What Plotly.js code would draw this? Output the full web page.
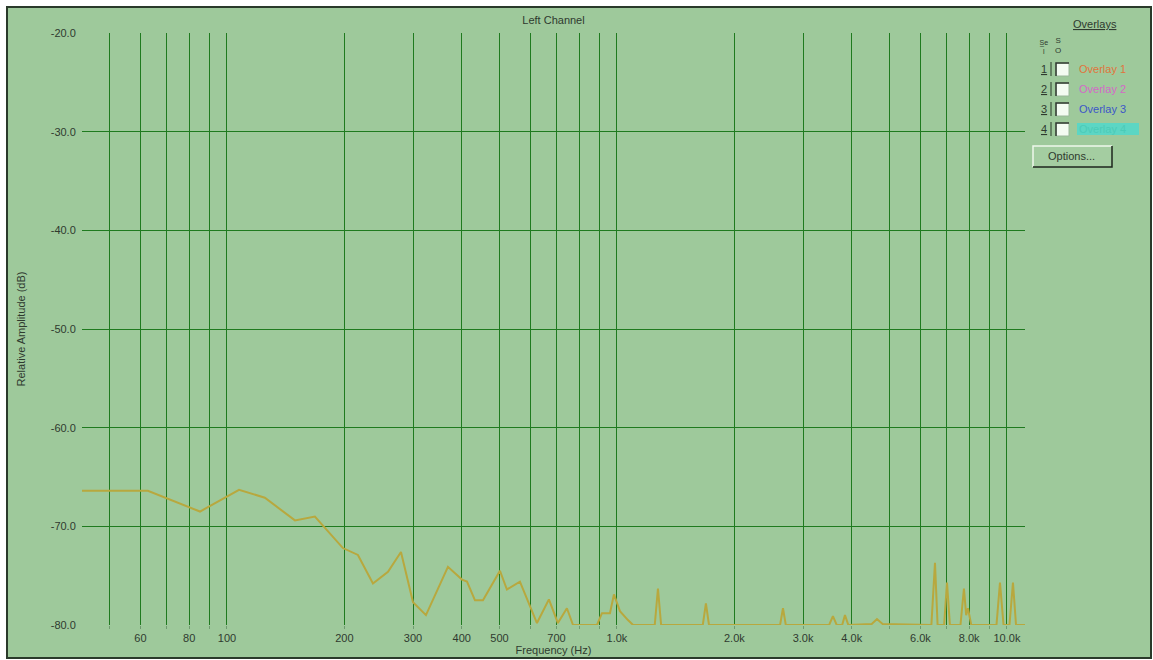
<!DOCTYPE html>
<html>
<head>
<meta charset="utf-8">
<script src="https://cdn.plot.ly/plotly-3.0.1.min.js"></script>
<style>html,body{margin:0;padding:0;background:#fff;}#chart{width:1153px;height:660px;}</style>
</head>
<body>
<div id="chart"></div>
<script>
// Frequency (Hz) and relative amplitude (dB)
const freqHz = [42.5, 62.7, 85.3, 107.4, 125.1, 149.4, 168.1, 198.3, 216.7, 236.8, 258.8, 279.4, 300.0, 323.8,
  368.7, 400.6, 412.6, 432.5, 453.4, 501.2, 522.3, 564.0, 623.6, 669.2, 705.7, 744.2, 771.6, 888.8, 915.4,
  959.6, 982.4, 1017.9, 1067.1, 1100, 1250, 1274, 1298, 1660, 1691, 1722, 2620, 2665, 2710, 3500, 3579, 3660,
  3780, 3843, 3920, 4500, 4642, 4800, 6400, 6538, 6640, 6900, 7019, 7140, 7600, 7757, 7860, 7943, 8100,
  9400, 9596, 9800, 10150, 10361, 10550, 11124];
const amplitudeDb = [-66.4, -66.4, -68.5, -66.3, -67.1, -69.4, -69.0, -72.2, -72.9, -75.8, -74.6, -72.6, -77.7, -79.0,
  -74.1, -75.4, -75.6, -77.5, -77.5, -74.5, -76.4, -75.6, -79.8, -77.4, -79.8, -78.3, -80, -80, -78.8,
  -78.8, -76.9, -78.6, -79.5, -80, -80, -76.3, -80, -80, -77.8, -80, -80, -78.3, -80, -80, -79.1, -80,
  -80, -79.0, -80, -79.9, -79.4, -79.9, -80, -73.7, -80, -80, -75.7, -80, -80, -76.3, -79.0, -78.3, -80,
  -80, -75.7, -80, -80, -75.7, -80, -80];

const xTickVals = [50, 60, 70, 80, 90, 100, 200, 300, 400, 500, 600, 700, 800, 900, 1000,
  2000, 3000, 4000, 5000, 6000, 7000, 8000, 9000, 10000];
const xTickText = ['', '60', '', '80', '', '100', '200', '300', '400', '500', '', '700', '', '', '1.0k',
  '2.0k', '3.0k', '4.0k', '', '6.0k', '', '8.0k', '', '10.0k'];
const yTickVals = [-80, -70, -60, -50, -40, -30, -20];
const yTickText = ['-80.0', '-70.0', '-60.0', '-50.0', '-40.0', '-30.0', '-20.0'];

const overlayLabels = ['Overlay 1', 'Overlay 2', 'Overlay 3', 'Overlay 4'];
const overlayColors = ['#e0743c', '#d468c8', '#3c56c8', '#5cd6c4'];

// layout geometry helpers (plot area 82..1025 x 33..625 px)
const L = 82, R = 1025, T = 33, B = 625;
const px = x => (x - L) / (R - L);
const py = y => (B - y) / (B - T);

const FONT = '"Liberation Sans", Arial, sans-serif';
const TXT = '#2f3a2f';
const BG = '#9ec99b';

const shapes = [
  {type: 'rect', xref: 'paper', yref: 'paper', x0: px(7), x1: px(1151), y0: py(658), y1: py(7),
   fillcolor: BG, line: {color: '#2a3a2a', width: 2}, layer: 'below'}
];
const annotations = [
  {xref: 'paper', yref: 'paper', x: px(1095), y: py(24), text: '<u>Overlays</u>', showarrow: false,
   font: {family: FONT, size: 11, color: TXT}, xanchor: 'center', yanchor: 'middle'},
  {xref: 'paper', yref: 'paper', x: px(1043), y: py(47), text: 'S̲e<br>l', showarrow: false,
   font: {family: FONT, size: 7, color: TXT}, xanchor: 'center', yanchor: 'middle'},
  {xref: 'paper', yref: 'paper', x: px(1058), y: py(46), text: 'S<br>O', showarrow: false,
   font: {family: FONT, size: 8, color: TXT}, xanchor: 'center', yanchor: 'middle'}
];
overlayLabels.forEach((lab, i) => {
  const yc = 69 + i * 20;
  annotations.push({xref: 'paper', yref: 'paper', x: px(1044), y: py(yc), text: '<u>' + (i + 1) + '</u>',
    showarrow: false, font: {family: FONT, size: 11, color: TXT}, xanchor: 'center', yanchor: 'middle'});
  shapes.push({type: 'line', xref: 'paper', yref: 'paper', x0: px(1051), x1: px(1051), y0: py(yc + 7), y1: py(yc - 7),
    line: {color: '#2a3a2a', width: 1}});
  shapes.push({type: 'rect', xref: 'paper', yref: 'paper', x0: px(1056), x1: px(1069), y0: py(yc + 7), y1: py(yc - 6),
    fillcolor: '#f4fbf2', line: {color: '#9ab89a', width: 1}});
  shapes.push({type: 'path', xref: 'paper', yref: 'paper',
    path: `M ${px(1056)} ${py(yc + 7)} L ${px(1056)} ${py(yc - 6)} L ${px(1069)} ${py(yc - 6)}`,
    line: {color: '#303830', width: 1.5}});
  if (i === 3) {
    shapes.push({type: 'rect', xref: 'paper', yref: 'paper', x0: px(1077), x1: px(1139), y0: py(yc + 6), y1: py(yc - 6),
      fillcolor: overlayColors[i], line: {width: 0}});
  }
  annotations.push({xref: 'paper', yref: 'paper', x: px(1077), y: py(yc), text: lab, showarrow: false,
    font: {family: FONT, size: 11, color: i === 3 ? '#4ccbb8' : overlayColors[i]}, xanchor: 'left', yanchor: 'middle'});
});
// Options button
shapes.push({type: 'rect', xref: 'paper', yref: 'paper', x0: px(1033), x1: px(1112), y0: py(167), y1: py(146),
  fillcolor: '#a4cda1', line: {width: 0}});
shapes.push({type: 'path', xref: 'paper', yref: 'paper',
  path: `M ${px(1033)} ${py(167)} L ${px(1033)} ${py(146)} L ${px(1112)} ${py(146)}`, line: {color: '#eef8ec', width: 1.5}});
shapes.push({type: 'path', xref: 'paper', yref: 'paper',
  path: `M ${px(1033)} ${py(167)} L ${px(1112)} ${py(167)} L ${px(1112)} ${py(146)}`, line: {color: '#1e261e', width: 1.5}});
annotations.push({xref: 'paper', yref: 'paper', x: px(1071), y: py(156), text: 'Options...', showarrow: false,
  font: {family: FONT, size: 11, color: TXT}, xanchor: 'center', yanchor: 'middle'});

const trace = {
  x: freqHz, y: amplitudeDb, type: 'scatter', mode: 'lines',
  line: {color: '#b8a83e', width: 2}, hoverinfo: 'x+y'
};

const grid = '#1f7a1f';
const layout = {
  width: 1153, height: 660,
  margin: {l: L, r: 1153 - R, t: T, b: 660 - B},
  paper_bgcolor: '#ffffff',
  plot_bgcolor: '#000000',
  showlegend: false,
  title: {text: 'Left Channel', font: {family: FONT, size: 11, color: TXT},
    x: px(553.5), xref: 'paper', xanchor: 'center', y: 1 - 20 / 660, yref: 'container', yanchor: 'middle'},
  xaxis: {
    type: 'log', range: [Math.log10(42.5), Math.log10(11124)],
    tickvals: xTickVals, ticktext: xTickText,
    showgrid: true, gridcolor: grid, gridwidth: 1,
    zeroline: false, showline: false,
    ticks: 'outside', ticklen: 3, tickcolor: '#6f9a6f',
    tickfont: {family: FONT, size: 11, color: TXT},
    title: {text: 'Frequency (Hz)', font: {family: FONT, size: 11, color: TXT}, standoff: 2}
  },
  yaxis: {
    range: [-80, -20],
    tickvals: yTickVals, ticktext: yTickText,
    showgrid: true, gridcolor: grid, gridwidth: 1,
    zeroline: false, showline: false,
    ticks: 'outside', ticklen: 3, tickcolor: 'rgba(0,0,0,0)',
    tickfont: {family: FONT, size: 11, color: TXT},
    title: {text: 'Relative Amplitude (dB)', font: {family: FONT, size: 11, color: TXT}, standoff: 22}
  },
  shapes: shapes,
  annotations: annotations
};

Plotly.newPlot('chart', [trace], layout, {displayModeBar: false, responsive: false});
</script>
</body>
</html>
